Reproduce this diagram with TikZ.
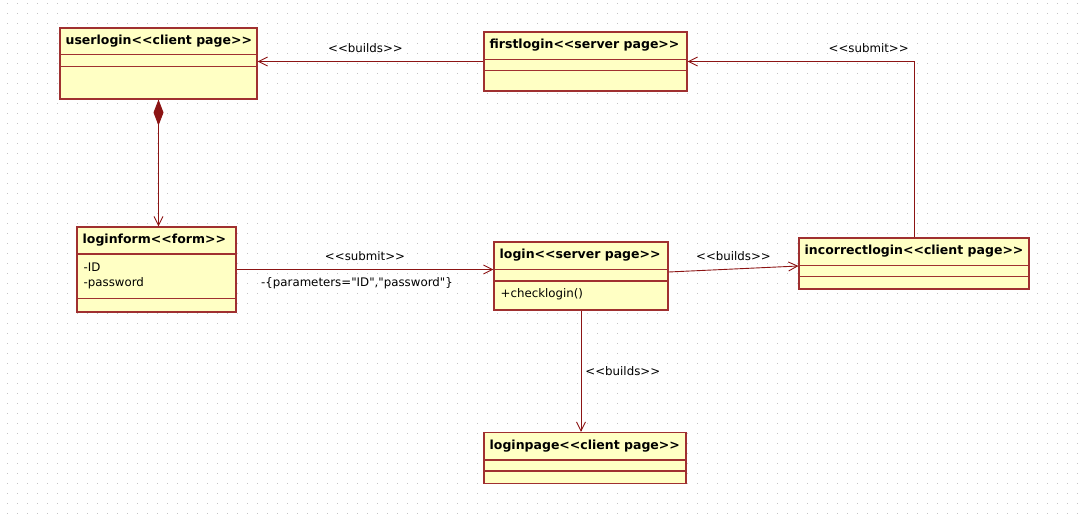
\documentclass[tikz,border=0pt]{standalone}
\usepackage{fontspec}
\setmainfont{DejaVu Sans}[Ligatures=TeXOff]
\usepackage{tikz}
\usetikzlibrary{arrows.meta, calc}
\definecolor{classfill}{RGB}{255,255,196}
\definecolor{classline}{RGB}{160,48,48}
\definecolor{linkline}{RGB}{140,20,20}
\definecolor{griddot}{RGB}{195,195,195}

\begin{document}
\begin{tikzpicture}[x=1pt, y=-1pt, font=\fontsize{11.8}{14}\selectfont,
  classbox/.style={draw=classline, fill=classfill, line width=1.1pt, inner sep=0pt},
  classname/.style={anchor=west, inner sep=0pt, font=\fontsize{12.5}{15}\selectfont\bfseries},
  member/.style={anchor=west, inner sep=0pt},
  sep/.style={draw=classline, line width=1.1pt},
  link/.style={draw=linkline, line width=0.9pt, -{Straight Barb[length=9pt,width=9pt]}},
  stereo/.style={inner sep=0pt}]

  % Canvas with dot grid
  \fill[white] (0,0) rectangle (1083,522);
  \useasboundingbox (0,0) rectangle (1083,522);
  \foreach \x in {7,17,...,1077}
    \foreach \y in {3,13,...,513}
      \fill[griddot] (\x,\y) rectangle ++(1,1);

  % userlogin
  \node[classbox, minimum width=197, minimum height=71] (userlogin) at (158.5,63.5) {};
  \node[classname] (userlogin-t) at ($(userlogin.north west)+(6,14)$) {userlogin<<client page>>};
  \draw[sep] ($(userlogin.north west)+(0,27)$) -- ($(userlogin.north east)+(0,27)$);
  \draw[sep] ($(userlogin.north west)+(0,39)$) -- ($(userlogin.north east)+(0,39)$);

  % firstlogin
  \node[classbox, minimum width=203, minimum height=59] (firstlogin) at (585.5,61.5) {};
  \node[classname] (firstlogin-t) at ($(firstlogin.north west)+(6,14)$) {firstlogin<<server page>>};
  \draw[sep] ($(firstlogin.north west)+(0,28)$) -- ($(firstlogin.north east)+(0,28)$);
  \draw[sep] ($(firstlogin.north west)+(0,39)$) -- ($(firstlogin.north east)+(0,39)$);

  % loginform
  \node[classbox, minimum width=159, minimum height=85] (loginform) at (156.5,269.5) {};
  \node[classname] (loginform-t) at ($(loginform.north west)+(6,14)$) {loginform<<form>>};
  \draw[sep] ($(loginform.north west)+(0,27.5)$) -- ($(loginform.north east)+(0,27.5)$);
  \draw[sep] ($(loginform.north west)+(0,72)$) -- ($(loginform.north east)+(0,72)$);
  \node[member] (loginform-id) at ($(loginform.north west)+(7,41)$) {-ID};
  \node[member] (loginform-pw) at ($(loginform.north west)+(7,57)$) {-password};

  % login
  \node[classbox, minimum width=174, minimum height=68] (login) at (581,276) {};
  \node[classname] (login-t) at ($(login.north west)+(6,14)$) {login<<server page>>};
  \draw[sep] ($(login.north west)+(0,28)$) -- ($(login.north east)+(0,28)$);
  \draw[sep] ($(login.north west)+(0,39.5)$) -- ($(login.north east)+(0,39.5)$);
  \node[member] (login-op) at ($(login.north west)+(7,53)$) {+checklogin()};

  % incorrectlogin
  \node[classbox, minimum width=230, minimum height=51] (incorrectlogin) at (914,263.5) {};
  \node[classname] (incorrectlogin-t) at ($(incorrectlogin.north west)+(6,14)$) {incorrectlogin<<client page>>};
  \draw[sep] ($(incorrectlogin.north west)+(0,28)$) -- ($(incorrectlogin.north east)+(0,28)$);
  \draw[sep] ($(incorrectlogin.north west)+(0,39)$) -- ($(incorrectlogin.north east)+(0,39)$);

  % loginpage
  \node[classbox, minimum width=202, minimum height=51] (loginpage) at (585,458) {};
  \node[classname] (loginpage-t) at ($(loginpage.north west)+(6,14)$) {loginpage<<client page>>};
  \draw[sep] ($(loginpage.north west)+(0,28)$) -- ($(loginpage.north east)+(0,28)$);
  \draw[sep] ($(loginpage.north west)+(0,39)$) -- ($(loginpage.north east)+(0,39)$);

  % Connectors
  \draw[link] (firstlogin.west) -- node[stereo, above=8pt, xshift=-5pt] {<<builds>>} (firstlogin.west -| userlogin.east);
  \draw[link, {Diamond[length=26pt,width=10pt]}-{Straight Barb[length=9pt,width=9pt]}]
    (userlogin.south) -- (userlogin.south |- loginform.north);
  \draw[link] (loginform.east) --
    node[stereo, above=8pt] {<<submit>>}
    node[stereo, below=8pt, xshift=-8pt] {-\{parameters="ID","password"\}}
    (loginform.east -| login.west);
  \draw[link] ([yshift=4pt]login.east) -- node[stereo, above=8pt] {<<builds>>} ([yshift=-2.5pt]incorrectlogin.west);
  \draw[link] (incorrectlogin.north) |- node[stereo, pos=0.6, above=8pt] {<<submit>>} (firstlogin.east);
  \draw[link] (login.south) -- node[stereo, right=4pt] {<<builds>>} (login.south |- loginpage.north);
\end{tikzpicture}
\end{document}
